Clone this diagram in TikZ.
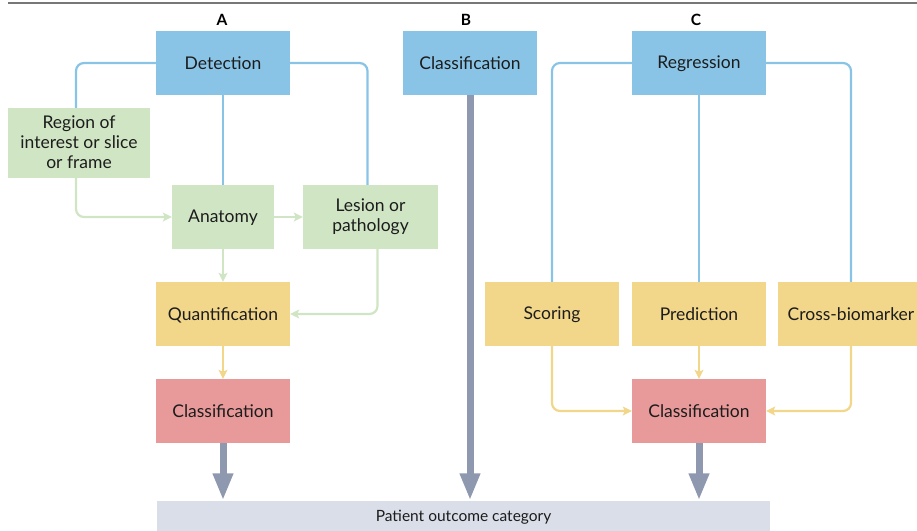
\documentclass[tikz,border=0pt]{standalone}
\usepackage{fontspec}
\setmainfont{Lato}
\usetikzlibrary{arrows.meta}
\definecolor{bluefill}{HTML}{89C4E7}
\definecolor{greenfill}{HTML}{CFE5C4}
\definecolor{yellowfill}{HTML}{F2D689}
\definecolor{redfill}{HTML}{E89A9A}
\definecolor{barfill}{HTML}{D9DEE8}
\definecolor{thickgray}{HTML}{8E98AE}
\definecolor{txt}{HTML}{1C1C1C}
\definecolor{rule}{HTML}{777777}
\newcommand\boxstrut{\rule[-1.6pt]{0pt}{16.4pt}}
\tikzset{
  box/.style={rectangle, minimum width=134pt, minimum height=64pt, inner sep=2pt, text=txt, font=\fontsize{17.5}{20}\selectfont, align=center, execute at begin node=\boxstrut, execute at end node=\boxstrut},
  bluebox/.style={box, fill=bluefill},
  greenbox/.style={box, fill=greenfill},
  yellowbox/.style={box, fill=yellowfill},
  redbox/.style={box, fill=redfill},
  blueline/.style={draw=bluefill, line width=2.2pt, rounded corners=8pt},
  greenline/.style={draw=greenfill, line width=2.2pt, rounded corners=8pt, -{Stealth[length=9pt,width=9pt,inset=2pt]}},
  yellowline/.style={draw=yellowfill, line width=2.2pt, rounded corners=8pt, -{Stealth[length=9pt,width=9pt,inset=2pt]}},
  thickarrow/.style={draw=thickgray, line width=7pt, -{Triangle[length=27pt,width=19pt]}},
  panel/.style={font=\fontsize{15.5}{18}\selectfont\bfseries, text=black},
}
\begin{document}
\begin{tikzpicture}[x=1pt,y=-1pt]
\useasboundingbox (0,0) rectangle (917,530);
\draw[rule, line width=1.3pt] (8,3) -- (917,3);

\node[panel] (la) at (222,20) {A};
\node[panel] (lb) at (466,20) {B};
\node[panel] (lc) at (696,20) {C};

% Panel A
\node[bluebox] (det) at (223,63) {Detection};
\node[greenbox, minimum width=142pt, minimum height=70pt] (roi) at (79,143) {Region of\\interest or slice\\or frame};
\node[greenbox, minimum width=102pt] (ana) at (223,217) {Anatomy};
\node[greenbox, minimum width=135pt] (les) at (370.5,217) {Lesion or\\pathology};
\node[yellowbox] (quant) at (223,314) {Quantification};
\node[redbox] (clsA) at (223,411) {Classification};

% Panel B
\node[bluebox] (clsB) at (470,63) {Classification};

% Panel C
\node[bluebox] (reg) at (699,63) {Regression};
\node[yellowbox] (sco) at (552,314) {Scoring};
\node[yellowbox] (pred) at (699,314) {Prediction};
\node[yellowbox, minimum width=146pt] (cross) at (851,314) {Cross-biomarker};
\node[redbox] (clsC) at (699,411) {Classification};

% Outcome bar
\node[rectangle, fill=barfill, minimum width=613pt, minimum height=34pt, inner sep=0pt, text=txt, font=\fontsize{15.5}{18}\selectfont] (pat) at (463.5,517.5) {Patient outcome category};

% Blue connectors A
\draw[blueline] (det.west) -| ([xshift=-3pt]roi.north);
\draw[blueline] (det.east) -| ([xshift=-3pt]les.north);
\draw[blueline] (det.south) -- (ana.north);

% Green connectors
\draw[greenline] ([xshift=-3pt]roi.south) |- (ana.west);
\draw[greenline] (ana.east) -- (les.west);
\draw[greenline] (ana.south) -- (quant.north);
\draw[greenline] ([xshift=7pt]les.south) |- (quant.east);

% Yellow A
\draw[yellowline] (quant.south) -- (clsA.north);

% Blue connectors C
\draw[blueline] (reg.west) -| (sco.north);
\draw[blueline] (reg.east) -| (cross.north);
\draw[blueline] (reg.south) -- (pred.north);

% Yellow C
\draw[yellowline] (sco.south) |- (clsC.west);
\draw[yellowline] (pred.south) -- (clsC.north);
\draw[yellowline] (cross.south) |- (clsC.east);

% Thick arrows
\draw[thickarrow] (clsA.south) -- (clsA.south |- pat.north);
\draw[thickarrow] (clsB.south) -- (clsB.south |- pat.north);
\draw[thickarrow] (clsC.south) -- (clsC.south |- pat.north);
\end{tikzpicture}
\end{document}
